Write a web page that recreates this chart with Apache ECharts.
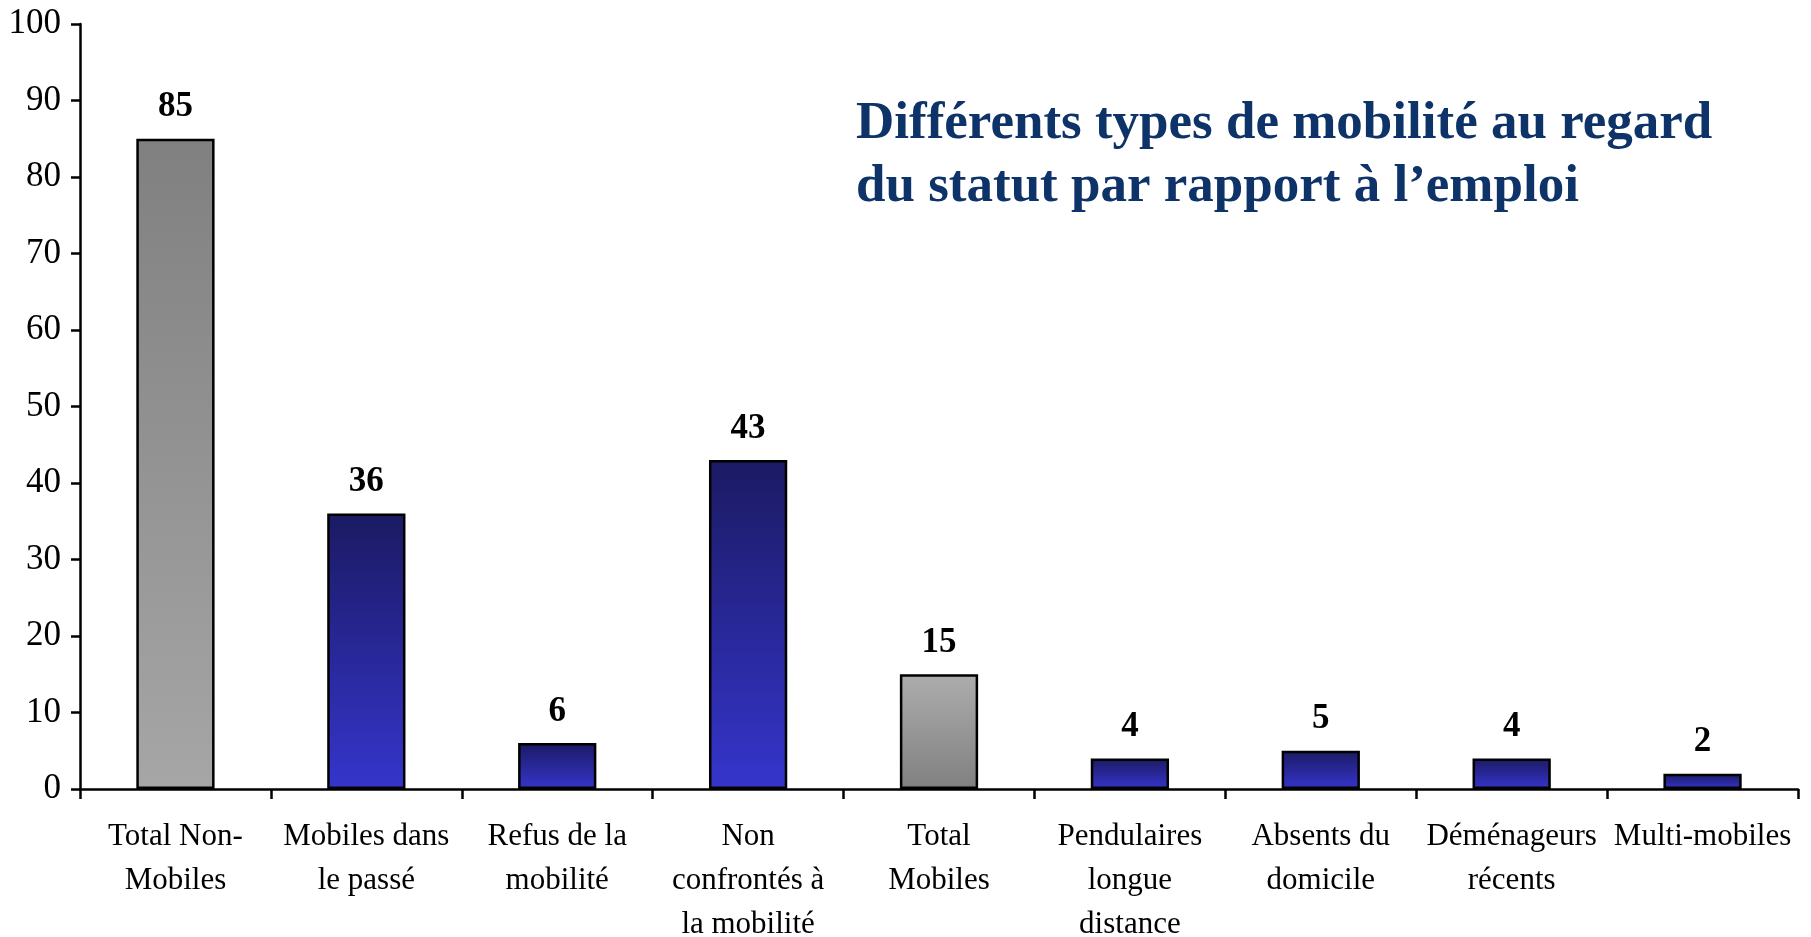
<!DOCTYPE html>
<html>
<head>
<meta charset="utf-8">
<script src="https://cdn.jsdelivr.net/npm/echarts@6/dist/echarts.min.js"></script>
<style>
  html, body { margin: 0; padding: 0; background: #fff; }
  #chart { width: 1811px; height: 937px; }
</style>
</head>
<body>
<div id="chart"></div>
<script>
// categories on the x axis
const categories = [
  'Total Non-\nMobiles',
  'Mobiles dans\nle passé',
  'Refus de la\nmobilité',
  'Non\nconfrontés à\nla mobilité',
  'Total\nMobiles',
  'Pendulaires\nlongue\ndistance',
  'Absents du\ndomicile',
  'Déménageurs\nrécents',
  'Multi-mobiles'
]
// bar values
const values = [85, 36, 6, 43, 15, 4, 5, 4, 2]
// which style each bar uses
const kinds = ['nonMobile', 'detail', 'detail', 'detail', 'mobile', 'detail', 'detail', 'detail', 'detail']

const serif = "'Liberation Serif', 'Times New Roman', serif"

function grad (top, bottom) {
  return {
    type: 'linear', x: 0, y: 0, x2: 0, y2: 1,
    colorStops: [{ offset: 0, color: top }, { offset: 1, color: bottom }]
  }
}
const fills = {
  nonMobile: grad('#808080', '#a6a6a6'),
  mobile: grad('#adadad', '#808080'),
  detail: grad('#1b1a63', '#3535cc')
}

const chart = echarts.init(document.getElementById('chart'))
chart.setOption({
  animation: false,
  title: {
    text: 'Différents types de mobilité au regard\ndu statut par rapport à l’emploi',
    left: 851,
    top: 88,
    textStyle: {
      fontFamily: serif,
      fontWeight: 'bold',
      fontSize: 53,
      lineHeight: 63,
      color: '#0e3368'
    }
  },
  grid: { left: 80, right: 13, top: 24, bottom: 148, outerBoundsMode: 'none' },
  xAxis: {
    type: 'category',
    data: categories,
    axisLine: { lineStyle: { color: '#000', width: 2.5 } },
    axisTick: { show: true, length: 10, lineStyle: { color: '#000', width: 2.5 } },
    axisLabel: {
      interval: 0,
      margin: 26,
      color: '#000',
      fontFamily: serif,
      fontSize: 31,
      lineHeight: 44
    }
  },
  yAxis: {
    type: 'value',
    min: 0,
    max: 100,
    interval: 10,
    splitLine: { show: false },
    axisLine: { show: true, lineStyle: { color: '#000', width: 2.5 } },
    axisTick: { show: true, length: 9, lineStyle: { color: '#000', width: 2.5 } },
    axisLabel: {
      margin: 19,
      color: '#000',
      fontFamily: serif,
      fontSize: 35
    }
  },
  series: [
    {
      type: 'bar',
      barWidth: '41%',
      data: values.map((v, i) => ({
        value: v,
        itemStyle: { color: fills[kinds[i]] }
      })),
      itemStyle: { borderColor: '#000', borderWidth: 2.5 },
      label: {
        show: true,
        position: 'top',
        distance: 14,
        color: '#000',
        fontFamily: serif,
        fontWeight: 'bold',
        fontSize: 35
      }
    }
  ]
})
</script>
</body>
</html>
